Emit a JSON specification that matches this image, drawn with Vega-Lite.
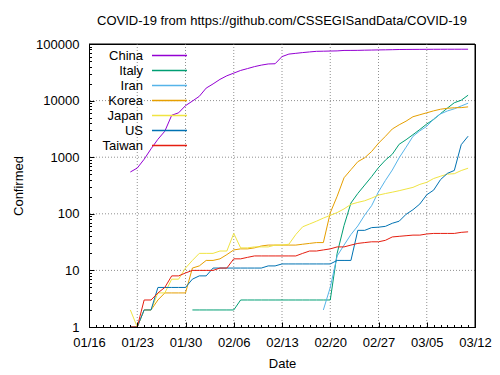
{
"$schema": "https://vega.github.io/schema/vega-lite/v6.json",
"width": 386, "height": 283,
"autosize": {"type": "none"},
"padding": {"left": 89, "top": 44, "right": 25, "bottom": 48},
"background": "white",
"config": {"view": {"stroke": "black", "strokeWidth": 1}},
"title": {"text": "COVID-19 from https://github.com/CSSEGISandData/COVID-19", "font": "Liberation Sans", "fontSize": 13, "fontWeight": "normal", "color": "black", "offset": 10, "anchor": "middle"},
"datasets": {
"weeks": [{"date":"2020-01-23"},{"date":"2020-01-30"},{"date":"2020-02-06"},{"date":"2020-02-13"},{"date":"2020-02-20"},{"date":"2020-02-27"},{"date":"2020-03-05"}],
"decades": [{"confirmed":10},{"confirmed":100},{"confirmed":1000},{"confirmed":10000}],
"rightEdge": [{"date":"2020-03-12"}],
"topEdge": [{"confirmed":100000}],
"covid": [
{"date":"2020-01-22","country":"China","confirmed":548},{"date":"2020-01-23","country":"China","confirmed":643},{"date":"2020-01-24","country":"China","confirmed":920},{"date":"2020-01-25","country":"China","confirmed":1406},{"date":"2020-01-26","country":"China","confirmed":2075},{"date":"2020-01-27","country":"China","confirmed":2877},{"date":"2020-01-28","country":"China","confirmed":5509},{"date":"2020-01-29","country":"China","confirmed":6087},{"date":"2020-01-30","country":"China","confirmed":8141},{"date":"2020-01-31","country":"China","confirmed":9802},
{"date":"2020-02-01","country":"China","confirmed":11891},{"date":"2020-02-02","country":"China","confirmed":16630},{"date":"2020-02-03","country":"China","confirmed":19716},{"date":"2020-02-04","country":"China","confirmed":23707},{"date":"2020-02-05","country":"China","confirmed":27440},{"date":"2020-02-06","country":"China","confirmed":30587},{"date":"2020-02-07","country":"China","confirmed":34110},{"date":"2020-02-08","country":"China","confirmed":36814},{"date":"2020-02-09","country":"China","confirmed":39829},{"date":"2020-02-10","country":"China","confirmed":42354},{"date":"2020-02-11","country":"China","confirmed":44386},{"date":"2020-02-12","country":"China","confirmed":44759},{"date":"2020-02-13","country":"China","confirmed":59895},{"date":"2020-02-14","country":"China","confirmed":66358},{"date":"2020-02-15","country":"China","confirmed":68413},{"date":"2020-02-16","country":"China","confirmed":70513},{"date":"2020-02-17","country":"China","confirmed":72434},{"date":"2020-02-18","country":"China","confirmed":74211},{"date":"2020-02-19","country":"China","confirmed":74619},{"date":"2020-02-20","country":"China","confirmed":75077},{"date":"2020-02-21","country":"China","confirmed":75550},{"date":"2020-02-22","country":"China","confirmed":77001},{"date":"2020-02-23","country":"China","confirmed":77022},{"date":"2020-02-24","country":"China","confirmed":77241},{"date":"2020-02-25","country":"China","confirmed":77754},{"date":"2020-02-26","country":"China","confirmed":78166},{"date":"2020-02-27","country":"China","confirmed":78600},{"date":"2020-02-28","country":"China","confirmed":78928},{"date":"2020-02-29","country":"China","confirmed":79356},
{"date":"2020-03-01","country":"China","confirmed":79932},{"date":"2020-03-02","country":"China","confirmed":80136},{"date":"2020-03-03","country":"China","confirmed":80261},{"date":"2020-03-04","country":"China","confirmed":80386},{"date":"2020-03-05","country":"China","confirmed":80537},{"date":"2020-03-06","country":"China","confirmed":80690},{"date":"2020-03-07","country":"China","confirmed":80770},{"date":"2020-03-08","country":"China","confirmed":80823},{"date":"2020-03-09","country":"China","confirmed":80860},{"date":"2020-03-10","country":"China","confirmed":80887},{"date":"2020-03-11","country":"China","confirmed":80921},
{"date":"2020-01-31","country":"Italy","confirmed":2},
{"date":"2020-02-01","country":"Italy","confirmed":2},{"date":"2020-02-02","country":"Italy","confirmed":2},{"date":"2020-02-03","country":"Italy","confirmed":2},{"date":"2020-02-04","country":"Italy","confirmed":2},{"date":"2020-02-05","country":"Italy","confirmed":2},{"date":"2020-02-06","country":"Italy","confirmed":2},{"date":"2020-02-07","country":"Italy","confirmed":3},{"date":"2020-02-08","country":"Italy","confirmed":3},{"date":"2020-02-09","country":"Italy","confirmed":3},{"date":"2020-02-10","country":"Italy","confirmed":3},{"date":"2020-02-11","country":"Italy","confirmed":3},{"date":"2020-02-12","country":"Italy","confirmed":3},{"date":"2020-02-13","country":"Italy","confirmed":3},{"date":"2020-02-14","country":"Italy","confirmed":3},{"date":"2020-02-15","country":"Italy","confirmed":3},{"date":"2020-02-16","country":"Italy","confirmed":3},{"date":"2020-02-17","country":"Italy","confirmed":3},{"date":"2020-02-18","country":"Italy","confirmed":3},{"date":"2020-02-19","country":"Italy","confirmed":3},{"date":"2020-02-20","country":"Italy","confirmed":3},{"date":"2020-02-21","country":"Italy","confirmed":20},{"date":"2020-02-22","country":"Italy","confirmed":62},{"date":"2020-02-23","country":"Italy","confirmed":155},{"date":"2020-02-24","country":"Italy","confirmed":229},{"date":"2020-02-25","country":"Italy","confirmed":322},{"date":"2020-02-26","country":"Italy","confirmed":453},{"date":"2020-02-27","country":"Italy","confirmed":655},{"date":"2020-02-28","country":"Italy","confirmed":888},{"date":"2020-02-29","country":"Italy","confirmed":1128},
{"date":"2020-03-01","country":"Italy","confirmed":1694},{"date":"2020-03-02","country":"Italy","confirmed":2036},{"date":"2020-03-03","country":"Italy","confirmed":2502},{"date":"2020-03-04","country":"Italy","confirmed":3089},{"date":"2020-03-05","country":"Italy","confirmed":3858},{"date":"2020-03-06","country":"Italy","confirmed":4636},{"date":"2020-03-07","country":"Italy","confirmed":5883},{"date":"2020-03-08","country":"Italy","confirmed":7375},{"date":"2020-03-09","country":"Italy","confirmed":9172},{"date":"2020-03-10","country":"Italy","confirmed":10149},{"date":"2020-03-11","country":"Italy","confirmed":12462},
{"date":"2020-02-19","country":"Iran","confirmed":2},{"date":"2020-02-20","country":"Iran","confirmed":5},{"date":"2020-02-21","country":"Iran","confirmed":18},{"date":"2020-02-22","country":"Iran","confirmed":28},{"date":"2020-02-23","country":"Iran","confirmed":43},{"date":"2020-02-24","country":"Iran","confirmed":61},{"date":"2020-02-25","country":"Iran","confirmed":95},{"date":"2020-02-26","country":"Iran","confirmed":139},{"date":"2020-02-27","country":"Iran","confirmed":245},{"date":"2020-02-28","country":"Iran","confirmed":388},{"date":"2020-02-29","country":"Iran","confirmed":593},
{"date":"2020-03-01","country":"Iran","confirmed":978},{"date":"2020-03-02","country":"Iran","confirmed":1501},{"date":"2020-03-03","country":"Iran","confirmed":2336},{"date":"2020-03-04","country":"Iran","confirmed":2922},{"date":"2020-03-05","country":"Iran","confirmed":3513},{"date":"2020-03-06","country":"Iran","confirmed":4747},{"date":"2020-03-07","country":"Iran","confirmed":5823},{"date":"2020-03-08","country":"Iran","confirmed":6566},{"date":"2020-03-09","country":"Iran","confirmed":7161},{"date":"2020-03-10","country":"Iran","confirmed":8042},{"date":"2020-03-11","country":"Iran","confirmed":9000},
{"date":"2020-01-22","country":"Korea","confirmed":1},{"date":"2020-01-23","country":"Korea","confirmed":1},{"date":"2020-01-24","country":"Korea","confirmed":2},{"date":"2020-01-25","country":"Korea","confirmed":2},{"date":"2020-01-26","country":"Korea","confirmed":3},{"date":"2020-01-27","country":"Korea","confirmed":4},{"date":"2020-01-28","country":"Korea","confirmed":4},{"date":"2020-01-29","country":"Korea","confirmed":4},{"date":"2020-01-30","country":"Korea","confirmed":4},{"date":"2020-01-31","country":"Korea","confirmed":11},
{"date":"2020-02-01","country":"Korea","confirmed":12},{"date":"2020-02-02","country":"Korea","confirmed":15},{"date":"2020-02-03","country":"Korea","confirmed":15},{"date":"2020-02-04","country":"Korea","confirmed":16},{"date":"2020-02-05","country":"Korea","confirmed":19},{"date":"2020-02-06","country":"Korea","confirmed":23},{"date":"2020-02-07","country":"Korea","confirmed":24},{"date":"2020-02-08","country":"Korea","confirmed":24},{"date":"2020-02-09","country":"Korea","confirmed":25},{"date":"2020-02-10","country":"Korea","confirmed":27},{"date":"2020-02-11","country":"Korea","confirmed":28},{"date":"2020-02-12","country":"Korea","confirmed":28},{"date":"2020-02-13","country":"Korea","confirmed":28},{"date":"2020-02-14","country":"Korea","confirmed":28},{"date":"2020-02-15","country":"Korea","confirmed":28},{"date":"2020-02-16","country":"Korea","confirmed":29},{"date":"2020-02-17","country":"Korea","confirmed":30},{"date":"2020-02-18","country":"Korea","confirmed":31},{"date":"2020-02-19","country":"Korea","confirmed":31},{"date":"2020-02-20","country":"Korea","confirmed":104},{"date":"2020-02-21","country":"Korea","confirmed":204},{"date":"2020-02-22","country":"Korea","confirmed":433},{"date":"2020-02-23","country":"Korea","confirmed":602},{"date":"2020-02-24","country":"Korea","confirmed":833},{"date":"2020-02-25","country":"Korea","confirmed":977},{"date":"2020-02-26","country":"Korea","confirmed":1261},{"date":"2020-02-27","country":"Korea","confirmed":1766},{"date":"2020-02-28","country":"Korea","confirmed":2337},{"date":"2020-02-29","country":"Korea","confirmed":3150},
{"date":"2020-03-01","country":"Korea","confirmed":3736},{"date":"2020-03-02","country":"Korea","confirmed":4335},{"date":"2020-03-03","country":"Korea","confirmed":5186},{"date":"2020-03-04","country":"Korea","confirmed":5621},{"date":"2020-03-05","country":"Korea","confirmed":6088},{"date":"2020-03-06","country":"Korea","confirmed":6593},{"date":"2020-03-07","country":"Korea","confirmed":7041},{"date":"2020-03-08","country":"Korea","confirmed":7314},{"date":"2020-03-09","country":"Korea","confirmed":7478},{"date":"2020-03-10","country":"Korea","confirmed":7513},{"date":"2020-03-11","country":"Korea","confirmed":7755},
{"date":"2020-01-22","country":"Japan","confirmed":2},{"date":"2020-01-23","country":"Japan","confirmed":1},{"date":"2020-01-24","country":"Japan","confirmed":2},{"date":"2020-01-25","country":"Japan","confirmed":2},{"date":"2020-01-26","country":"Japan","confirmed":4},{"date":"2020-01-27","country":"Japan","confirmed":4},{"date":"2020-01-28","country":"Japan","confirmed":7},{"date":"2020-01-29","country":"Japan","confirmed":7},{"date":"2020-01-30","country":"Japan","confirmed":11},{"date":"2020-01-31","country":"Japan","confirmed":15},
{"date":"2020-02-01","country":"Japan","confirmed":20},{"date":"2020-02-02","country":"Japan","confirmed":20},{"date":"2020-02-03","country":"Japan","confirmed":20},{"date":"2020-02-04","country":"Japan","confirmed":22},{"date":"2020-02-05","country":"Japan","confirmed":22},{"date":"2020-02-06","country":"Japan","confirmed":45},{"date":"2020-02-07","country":"Japan","confirmed":25},{"date":"2020-02-08","country":"Japan","confirmed":25},{"date":"2020-02-09","country":"Japan","confirmed":26},{"date":"2020-02-10","country":"Japan","confirmed":26},{"date":"2020-02-11","country":"Japan","confirmed":26},{"date":"2020-02-12","country":"Japan","confirmed":28},{"date":"2020-02-13","country":"Japan","confirmed":28},{"date":"2020-02-14","country":"Japan","confirmed":29},{"date":"2020-02-15","country":"Japan","confirmed":43},{"date":"2020-02-16","country":"Japan","confirmed":59},{"date":"2020-02-17","country":"Japan","confirmed":66},{"date":"2020-02-18","country":"Japan","confirmed":74},{"date":"2020-02-19","country":"Japan","confirmed":84},{"date":"2020-02-20","country":"Japan","confirmed":94},{"date":"2020-02-21","country":"Japan","confirmed":105},{"date":"2020-02-22","country":"Japan","confirmed":122},{"date":"2020-02-23","country":"Japan","confirmed":147},{"date":"2020-02-24","country":"Japan","confirmed":159},{"date":"2020-02-25","country":"Japan","confirmed":170},{"date":"2020-02-26","country":"Japan","confirmed":189},{"date":"2020-02-27","country":"Japan","confirmed":214},{"date":"2020-02-28","country":"Japan","confirmed":228},{"date":"2020-02-29","country":"Japan","confirmed":241},
{"date":"2020-03-01","country":"Japan","confirmed":256},{"date":"2020-03-02","country":"Japan","confirmed":274},{"date":"2020-03-03","country":"Japan","confirmed":293},{"date":"2020-03-04","country":"Japan","confirmed":331},{"date":"2020-03-05","country":"Japan","confirmed":360},{"date":"2020-03-06","country":"Japan","confirmed":420},{"date":"2020-03-07","country":"Japan","confirmed":461},{"date":"2020-03-08","country":"Japan","confirmed":502},{"date":"2020-03-09","country":"Japan","confirmed":511},{"date":"2020-03-10","country":"Japan","confirmed":581},{"date":"2020-03-11","country":"Japan","confirmed":639},
{"date":"2020-01-22","country":"US","confirmed":1},{"date":"2020-01-23","country":"US","confirmed":1},{"date":"2020-01-24","country":"US","confirmed":2},{"date":"2020-01-25","country":"US","confirmed":2},{"date":"2020-01-26","country":"US","confirmed":5},{"date":"2020-01-27","country":"US","confirmed":5},{"date":"2020-01-28","country":"US","confirmed":5},{"date":"2020-01-29","country":"US","confirmed":5},{"date":"2020-01-30","country":"US","confirmed":5},{"date":"2020-01-31","country":"US","confirmed":7},
{"date":"2020-02-01","country":"US","confirmed":8},{"date":"2020-02-02","country":"US","confirmed":8},{"date":"2020-02-03","country":"US","confirmed":11},{"date":"2020-02-04","country":"US","confirmed":11},{"date":"2020-02-05","country":"US","confirmed":11},{"date":"2020-02-06","country":"US","confirmed":11},{"date":"2020-02-07","country":"US","confirmed":11},{"date":"2020-02-08","country":"US","confirmed":11},{"date":"2020-02-09","country":"US","confirmed":11},{"date":"2020-02-10","country":"US","confirmed":11},{"date":"2020-02-11","country":"US","confirmed":12},{"date":"2020-02-12","country":"US","confirmed":12},{"date":"2020-02-13","country":"US","confirmed":13},{"date":"2020-02-14","country":"US","confirmed":13},{"date":"2020-02-15","country":"US","confirmed":13},{"date":"2020-02-16","country":"US","confirmed":13},{"date":"2020-02-17","country":"US","confirmed":13},{"date":"2020-02-18","country":"US","confirmed":13},{"date":"2020-02-19","country":"US","confirmed":13},{"date":"2020-02-20","country":"US","confirmed":13},{"date":"2020-02-21","country":"US","confirmed":15},{"date":"2020-02-22","country":"US","confirmed":15},{"date":"2020-02-23","country":"US","confirmed":15},{"date":"2020-02-24","country":"US","confirmed":51},{"date":"2020-02-25","country":"US","confirmed":51},{"date":"2020-02-26","country":"US","confirmed":57},{"date":"2020-02-27","country":"US","confirmed":58},{"date":"2020-02-28","country":"US","confirmed":60},{"date":"2020-02-29","country":"US","confirmed":68},
{"date":"2020-03-01","country":"US","confirmed":74},{"date":"2020-03-02","country":"US","confirmed":98},{"date":"2020-03-03","country":"US","confirmed":118},{"date":"2020-03-04","country":"US","confirmed":149},{"date":"2020-03-05","country":"US","confirmed":217},{"date":"2020-03-06","country":"US","confirmed":262},{"date":"2020-03-07","country":"US","confirmed":402},{"date":"2020-03-08","country":"US","confirmed":518},{"date":"2020-03-09","country":"US","confirmed":583},{"date":"2020-03-10","country":"US","confirmed":1663},{"date":"2020-03-11","country":"US","confirmed":2350},
{"date":"2020-01-22","country":"Taiwan","confirmed":1},{"date":"2020-01-23","country":"Taiwan","confirmed":1},{"date":"2020-01-24","country":"Taiwan","confirmed":3},{"date":"2020-01-25","country":"Taiwan","confirmed":3},{"date":"2020-01-26","country":"Taiwan","confirmed":4},{"date":"2020-01-27","country":"Taiwan","confirmed":5},{"date":"2020-01-28","country":"Taiwan","confirmed":8},{"date":"2020-01-29","country":"Taiwan","confirmed":8},{"date":"2020-01-30","country":"Taiwan","confirmed":9},{"date":"2020-01-31","country":"Taiwan","confirmed":10},
{"date":"2020-02-01","country":"Taiwan","confirmed":10},{"date":"2020-02-02","country":"Taiwan","confirmed":10},{"date":"2020-02-03","country":"Taiwan","confirmed":10},{"date":"2020-02-04","country":"Taiwan","confirmed":11},{"date":"2020-02-05","country":"Taiwan","confirmed":11},{"date":"2020-02-06","country":"Taiwan","confirmed":16},{"date":"2020-02-07","country":"Taiwan","confirmed":16},{"date":"2020-02-08","country":"Taiwan","confirmed":17},{"date":"2020-02-09","country":"Taiwan","confirmed":18},{"date":"2020-02-10","country":"Taiwan","confirmed":18},{"date":"2020-02-11","country":"Taiwan","confirmed":18},{"date":"2020-02-12","country":"Taiwan","confirmed":18},{"date":"2020-02-13","country":"Taiwan","confirmed":18},{"date":"2020-02-14","country":"Taiwan","confirmed":18},{"date":"2020-02-15","country":"Taiwan","confirmed":18},{"date":"2020-02-16","country":"Taiwan","confirmed":20},{"date":"2020-02-17","country":"Taiwan","confirmed":22},{"date":"2020-02-18","country":"Taiwan","confirmed":22},{"date":"2020-02-19","country":"Taiwan","confirmed":23},{"date":"2020-02-20","country":"Taiwan","confirmed":24},{"date":"2020-02-21","country":"Taiwan","confirmed":26},{"date":"2020-02-22","country":"Taiwan","confirmed":26},{"date":"2020-02-23","country":"Taiwan","confirmed":28},{"date":"2020-02-24","country":"Taiwan","confirmed":30},{"date":"2020-02-25","country":"Taiwan","confirmed":31},{"date":"2020-02-26","country":"Taiwan","confirmed":32},{"date":"2020-02-27","country":"Taiwan","confirmed":32},{"date":"2020-02-28","country":"Taiwan","confirmed":34},{"date":"2020-02-29","country":"Taiwan","confirmed":39},
{"date":"2020-03-01","country":"Taiwan","confirmed":40},{"date":"2020-03-02","country":"Taiwan","confirmed":41},{"date":"2020-03-03","country":"Taiwan","confirmed":42},{"date":"2020-03-04","country":"Taiwan","confirmed":42},{"date":"2020-03-05","country":"Taiwan","confirmed":44},{"date":"2020-03-06","country":"Taiwan","confirmed":45},{"date":"2020-03-07","country":"Taiwan","confirmed":45},{"date":"2020-03-08","country":"Taiwan","confirmed":45},{"date":"2020-03-09","country":"Taiwan","confirmed":45},{"date":"2020-03-10","country":"Taiwan","confirmed":47},{"date":"2020-03-11","country":"Taiwan","confirmed":48}
]},
"layer": [
{
"data": {"name": "weeks"},
"mark": {"type": "rule", "stroke": "#909090", "strokeWidth": 1, "strokeDash": [1, 2]},
"encoding": {"x": {"field": "date", "type": "temporal"}}
},
{
"data": {"name": "decades"},
"mark": {"type": "rule", "stroke": "#909090", "strokeWidth": 1, "strokeDash": [1, 2]},
"encoding": {"y": {"field": "confirmed", "type": "quantitative"}}
},
{
"data": {"name": "rightEdge"},
"mark": {"type": "rule", "stroke": "black", "strokeWidth": 1},
"encoding": {"x": {"field": "date", "type": "temporal"}}
},
{
"data": {"name": "topEdge"},
"mark": {"type": "rule", "stroke": "black", "strokeWidth": 1},
"encoding": {"y": {"field": "confirmed", "type": "quantitative"}}
},
{
"data": {"name": "covid"},
"mark": {"type": "line", "strokeWidth": 1},
"encoding": {
"x": {"field": "date", "type": "temporal",
 "scale": {"type": "utc", "domain": [{"year": 2020, "month": 1, "date": 16, "utc": true}, {"year": 2020, "month": 3, "date": 12, "utc": true}], "nice": false},
 "axis": {"orient": "bottom", "tickCount": {"interval": "day", "step": 1}, "zindex": 1, "grid": false,
  "domain": true, "domainColor": "black", "domainWidth": 1,
  "ticks": true, "tickColor": "black", "tickWidth": 1,
  "tickSize": {"condition": {"test": "round((datum.value - utc(2020,0,16))/86400000) % 7 == 0", "value": -5}, "value": -2.5},
  "labelExpr": "round((datum.value - utc(2020,0,16))/86400000) % 7 == 0 ? utcFormat(datum.value, '%m/%d') : ''",
  "labelFont": "Liberation Sans", "labelFontSize": 13, "labelColor": "black", "labelPadding": 14, "labelOverlap": false, "labelFlush": false,
  "title": "Date", "titleFont": "Liberation Sans", "titleFontSize": 13, "titleFontWeight": "normal", "titleColor": "black",
  "titleX": 193, "titleY": 36, "titleBaseline": "middle", "titleAlign": "center", "titleAnchor": null}},
"y": {"field": "confirmed", "type": "quantitative",
 "scale": {"type": "log", "domain": [1, 100000], "nice": false},
 "axis": {"orient": "left", "values": [1,2,3,4,5,6,7,8,9,10,20,30,40,50,60,70,80,90,100,200,300,400,500,600,700,800,900,1000,2000,3000,4000,5000,6000,7000,8000,9000,10000,20000,30000,40000,50000,60000,70000,80000,90000,100000],
  "zindex": 1, "grid": false,
  "domain": true, "domainColor": "black", "domainWidth": 1,
  "ticks": true, "tickColor": "black", "tickWidth": 1,
  "tickSize": {"condition": {"test": "abs(log(datum.value)/LN10 - round(log(datum.value)/LN10)) < 0.001", "value": -5}, "value": -2.5},
  "labelExpr": "abs(log(datum.value)/LN10 - round(log(datum.value)/LN10)) < 0.001 ? format(datum.value, 'd') : ''",
  "labelFont": "Liberation Sans", "labelFontSize": 13, "labelColor": "black", "labelPadding": 15, "labelOverlap": false, "labelFlush": false, "labelBaseline": "middle",
  "title": "Confirmed", "titleFont": "Liberation Sans", "titleFontSize": 13, "titleFontWeight": "normal", "titleColor": "black",
  "titleX": -71, "titleY": 141.5, "titleAngle": -90, "titleBaseline": "middle", "titleAlign": "center", "titleAnchor": null}},
"color": {"field": "country", "type": "nominal",
 "scale": {"domain": ["China", "Italy", "Iran", "Korea", "Japan", "US", "Taiwan"], "range": ["#9400d3", "#009e73", "#56b4e9", "#e69f00", "#f0e442", "#0072b2", "#e51e10"]},
 "legend": {"orient": "none", "legendX": 74, "legendY": 5, "title": null, "symbolType": "M-3.5,0H3.5", "symbolSize": 100, "symbolStrokeWidth": 1.5, "symbolFillColor": "transparent", "rowPadding": 1, "padding": 0,
  "labelAlign": "right", "labelOffset": -33, "labelFont": "Liberation Sans", "labelFontSize": 13, "labelColor": "black", "labelLimit": 200}}
}
}
]
}
